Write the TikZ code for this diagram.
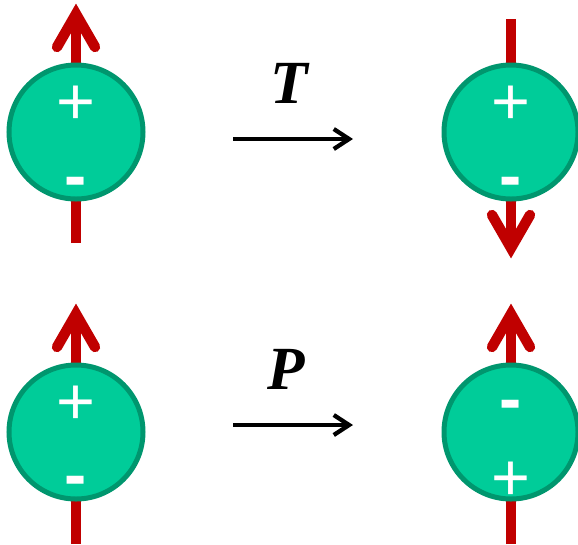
\documentclass[tikz,border=0pt]{standalone}
\usepackage{fontspec}
\setmainfont{Liberation Serif}
\newfontfamily\sansf{Liberation Sans}
\usetikzlibrary{arrows.meta,backgrounds}
\definecolor{ballfill}{RGB}{0,204,153}
\definecolor{ballline}{RGB}{0,150,110}
\definecolor{spinred}{RGB}{192,0,0}
\tikzset{
  ball/.style={circle,draw=ballline,fill=ballfill,line width=3.75pt,minimum size=100.5pt,inner sep=0pt},
  plussign/.style={text=white,inner sep=0pt,anchor=center,font=\sansf\fontsize{50}{50}\selectfont},
  minussign/.style={text=white,inner sep=0pt,anchor=center,font=\sansf\bfseries\fontsize{50}{50}\selectfont},
  spin/.style={draw=spinred,line width=8pt},
  spinhead/.style={draw=spinred,line width=7.8pt,line cap=round,line join=miter},
  oparrow/.style={draw=black,line width=3.2pt,-{Straight Barb[length=11.5pt,width=15pt]}},
  oplabel/.style={inner sep=0pt,font=\bfseries\itshape\fontsize{46}{46}\selectfont},
}
\begin{document}
\begin{tikzpicture}[x=0.75pt,y=-0.75pt]
\useasboundingbox (0,0) rectangle (578,544);
% balls
\node[ball] (a) at (76,132) {};
\node[ball] (b) at (511,132) {};
\node[ball] (c) at (76,432) {};
\node[ball] (d) at (511,432) {};
% charges
\node[plussign] (ap) at (76,105) {+};
\node[minussign] (am) at (76,188) {-};
\node[plussign] (bp) at (511,105) {+};
\node[minussign] (bm) at (511,188) {-};
\node[plussign] (cp) at (76,405) {+};
\node[minussign] (cm) at (76,487) {-};
\node[minussign] (dm) at (511,411) {-};
\node[plussign] (dp) at (511,481) {+};
% spin coordinates
\coordinate (a1) at (76,243);  \coordinate (a2) at (76,16);
\coordinate (b1) at (511,19);  \coordinate (b2) at (511,246);
\coordinate (c1) at (76,544);  \coordinate (c2) at (76,316);
\coordinate (d1) at (511,544); \coordinate (d2) at (511,316);
\begin{scope}[on background layer]
\draw[spin] (a1) -- (a2);
\draw[spinhead] ([shift={(-19,31)}]a2) -- ([shift={(0,-2)}]a2) -- ([shift={(19,31)}]a2);
\draw[spin] (b1) -- (b2);
\draw[spinhead] ([shift={(-19,-31)}]b2) -- ([shift={(0,2)}]b2) -- ([shift={(19,-31)}]b2);
\draw[spin] (c1) -- (c2);
\draw[spinhead] ([shift={(-19,31)}]c2) -- ([shift={(0,-2)}]c2) -- ([shift={(19,31)}]c2);
\draw[spin] (d1) -- (d2);
\draw[spinhead] ([shift={(-19,31)}]d2) -- ([shift={(0,-2)}]d2) -- ([shift={(19,31)}]d2);
\end{scope}
% operations
\coordinate (t1) at (233,139); \coordinate (t2) at (353,139);
\coordinate (p1) at (233,425); \coordinate (p2) at (353,425);
\draw[oparrow] (t1) -- (t2);
\draw[oparrow] (p1) -- (p2);
\node[oplabel] (T) at (289,83) {T};
\node[oplabel] (P) at (286,369) {P};
\end{tikzpicture}
\end{document}
